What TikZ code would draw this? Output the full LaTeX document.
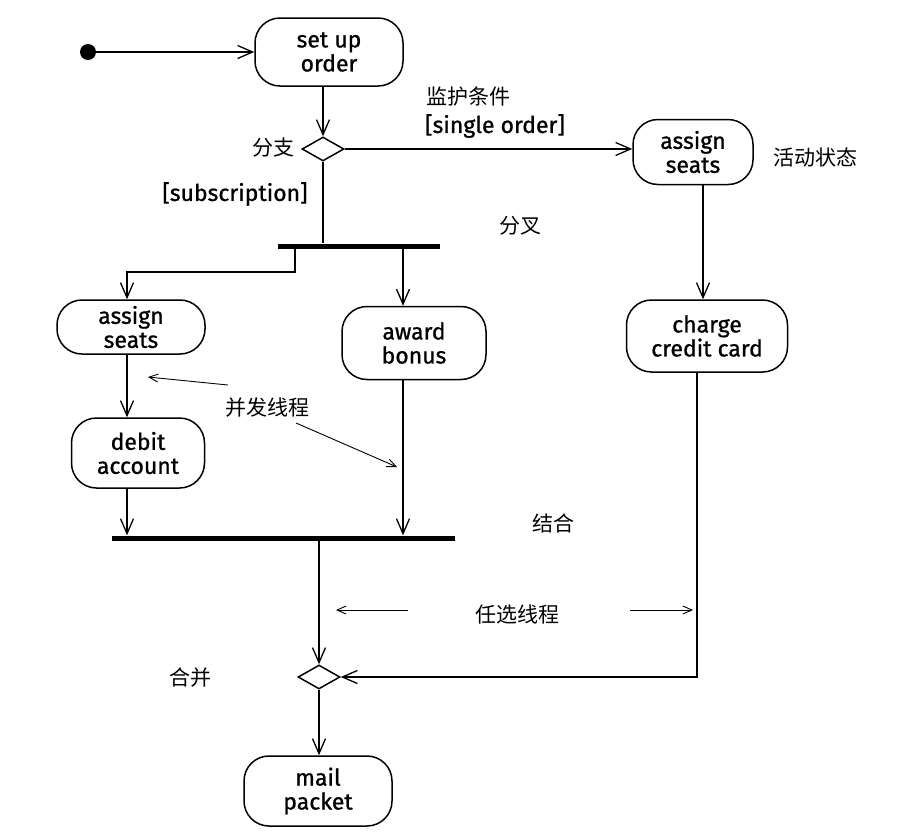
\documentclass[tikz,border=0pt]{standalone}
\usepackage{fontspec}
\setmainfont{Fira Sans}
\newfontfamily\boxfont{Fira Sans}[FakeBold=0.9]
\newfontfamily\cjk{Noto Sans CJK SC}
\usetikzlibrary{arrows.meta,shapes.geometric,calc}
\begin{document}
\begin{tikzpicture}[x=1pt,y=-1pt,
  act/.style={draw, line width=1.5pt, rounded corners=25pt, align=center,
    font=\boxfont\fontsize{23}{24}\selectfont, inner sep=0pt},
  arr/.style={line width=1.5pt, -{Straight Barb[length=15pt,width=13pt,line width=1.3pt]}},
  plain/.style={line width=1.5pt},
  note/.style={line width=0.9pt, -{Straight Barb[length=9pt,width=8pt,line width=0.9pt]}},
  lbl/.style={font=\cjk\fontsize{21}{22}\selectfont, inner sep=0pt},
  guard/.style={font=\boxfont\fontsize{23}{24}\selectfont, inner sep=0pt},
  bar/.style={fill=black, inner sep=0pt, minimum height=5pt},
  dia/.style={diamond, draw, line width=1.5pt, inner sep=0pt, minimum width=42pt, minimum height=24pt}
]
\useasboundingbox[fill=white] (0,0) rectangle (905,836);

% nodes
\node[circle, fill=black, inner sep=0pt, minimum size=16pt] (start) at (88,52) {};
\node[act, minimum width=148pt, minimum height=68pt] (setup) at (329,52) {set up\\order};
\node[dia] (dec) at (323,149) {};
\node[act, minimum width=120pt, minimum height=65pt] (assignR) at (693,152) {assign\\seats};
\node[bar, minimum width=162pt] (fork) at (359,246) {};
\node[act, minimum width=148pt, minimum height=54pt] (assignL) at (131,327) {assign\\seats};
\node[act, minimum width=144pt, minimum height=73pt] (award) at (414,343) {award\\bonus};
\node[act, minimum width=161pt, minimum height=72pt] (charge) at (707,336) {charge\\credit card};
\node[act, minimum width=133pt, minimum height=70pt] (debit) at (138,453) {debit\\account};
\node[bar, minimum width=343pt] (join) at (283,538) {};
\node[dia] (merge) at (319,677) {};
\node[act, minimum width=148pt, minimum height=70pt] (mail) at (318,791) {mail\\packet};

% labels
\node[lbl] (lfenzhi) at (273,148) {分支};
\node[lbl] (ljianhu) at (468,97) {监护条件};
\node[guard] (gsingle) at (495,126) {[single order]};
\node[lbl] (lhuodong) at (815,157) {活动状态};
\node[guard] (gsub) at (235,194) {[subscription]};
\node[lbl] (lfencha) at (520,226) {分叉};
\node[lbl] (lbingfa) at (267,408) {并发线程};
\node[lbl] (ljiehe) at (553,523) {结合};
\node[lbl] (lrenxuan) at (517,614) {任选线程};
\node[lbl] (lhebing) at (190,678) {合并};

% columns
\coordinate (colL) at (127,0);
\coordinate (colA) at (403,0);
\coordinate (colR1) at (703,0);
\coordinate (colR2) at (697,0);
\coordinate (colM) at (319,0);
\coordinate (forkL) at (295,272);

% connectors
\draw[arr] (start) -- (setup.west);
\draw[arr] (setup.south -| dec.north) -- (dec.north);
\draw[arr] (dec.east) -- (assignR.west |- dec.east);
\draw[plain] (dec.south) -- (dec.south |- fork.north);
\draw[arr] (fork.south -| forkL) -- (forkL) -| (assignL.north -| colL);
\draw[arr] (fork.south -| colA) -- (award.north -| colA);
\draw[arr] (assignR.south -| colR1) -- (charge.north -| colR1);
\draw[arr] (assignL.south -| colL) -- (debit.north -| colL);
\draw[arr] (debit.south -| colL) -- (join.north -| colL);
\draw[arr] (award.south -| colA) -- (join.north -| colA);
\draw[arr] (join.south -| colM) -- (merge.north);
\draw[arr] (charge.south -| colR2) |- (merge.east);
\draw[arr] (merge.south) -- (mail.north -| colM);

% annotation arrows
\coordinate (b1s) at (228,385);
\coordinate (b1e) at (148,377);
\coordinate (b2s) at (296,423);
\coordinate (b2e) at (397,467);
\coordinate (r1s) at (408,610);
\coordinate (r1e) at (336,610);
\coordinate (r2s) at (630,610);
\coordinate (r2e) at (693,610);
\draw[note] (b1s) -- (b1e);
\draw[note] (b2s) -- (b2e);
\draw[note] (r1s) -- (r1e);
\draw[note] (r2s) -- (r2e);
\end{tikzpicture}
\end{document}
